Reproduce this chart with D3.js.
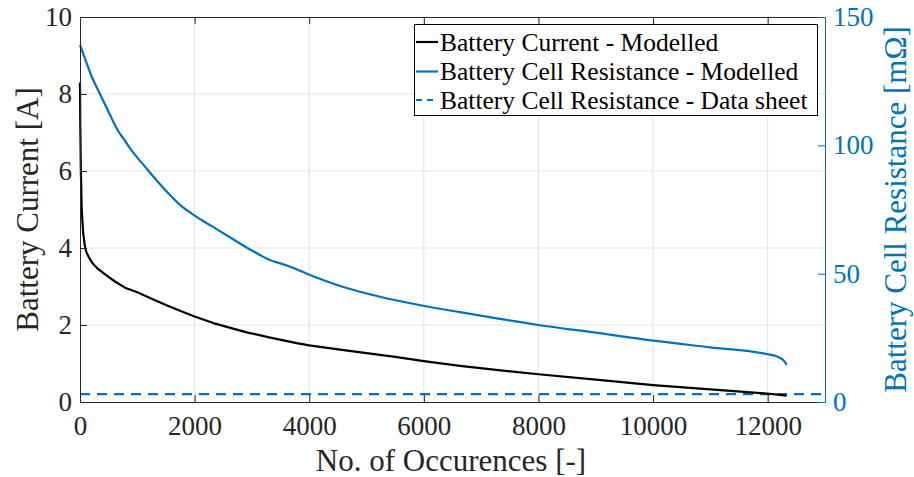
<!DOCTYPE html>
<html>
<head>
<meta charset="utf-8">
<script src="https://cdn.jsdelivr.net/npm/d3@7"></script>
<style>
  html, body { margin: 0; padding: 0; background: #fff; }
  svg { display: block; }
  text { font-family: "Liberation Serif" !important; }
</style>
</head>
<body>
<svg id="chart" width="914" height="477"></svg>
<script>
// Occurrence counts (x) and modelled battery current [A]
const currentX = [0, 5, 15, 30, 55, 85, 110, 150, 220, 320, 450, 610, 785, 1000, 1280, 1500, 1745, 2000, 2326, 2908, 3300, 3781, 4000, 4537, 5000, 5500, 6000, 6631, 7300, 8000, 9000, 10000, 11000, 11982, 12330];
const currentA = [8.3, 7.2, 6.0, 5.0, 4.4, 4.05, 3.9, 3.77, 3.6, 3.45, 3.3, 3.13, 2.97, 2.85, 2.66, 2.52, 2.37, 2.22, 2.05, 1.81, 1.68, 1.53, 1.47, 1.36, 1.27, 1.17, 1.06, 0.94, 0.83, 0.72, 0.58, 0.44, 0.33, 0.22, 0.165];

// Occurrence counts (x) and modelled cell resistance [mΩ]
const resistX = [0, 100, 200, 349, 500, 669, 756, 900, 1134, 1350, 1541, 1745, 1995, 2300, 2700, 3000, 3315, 3600, 4013, 4500, 5235, 5990, 6631, 7300, 7998, 9000, 10004, 11000, 11982, 12156, 12230, 12272, 12310, 12330];
const resistMOhm = [139, 133, 127, 120, 113, 105.5, 102.7, 98, 91.7, 86, 81.3, 76.8, 72.7, 68.5, 63, 59, 55.3, 53.3, 49.5, 45.5, 41, 37.5, 35, 32.5, 30, 27, 23.9, 21.3, 18.7, 17.8, 17.0, 16.3, 15.3, 14.4];

// Data-sheet resistance (constant) [mΩ]
const datasheetMOhm = 3.1;

// Axis ticks
const xTicks = [0, 2000, 4000, 6000, 8000, 10000, 12000];
const yLeftTicks = [0, 2, 4, 6, 8, 10];
const yRightTicks = [0, 50, 100, 150];

const legendLabels = [
  "Battery Current - Modelled",
  "Battery Cell Resistance - Modelled",
  "Battery Cell Resistance - Data sheet"
];

const BLUE = "#0072BD";
const AX = "#262626";
const SERIF = '"Liberation Serif"';

const svg = d3.select("#chart");
const m = { left: 80, right: 89, top: 17, bottom: 75 };
const W = 914, H = 477;
const pw = W - m.left - m.right, ph = H - m.top - m.bottom;

const x = d3.scaleLinear().domain([0, 13000]).range([m.left, m.left + pw]);
const yL = d3.scaleLinear().domain([0, 10]).range([m.top + ph, m.top]);
const yR = d3.scaleLinear().domain([0, 150]).range([m.top + ph, m.top]);

function serifText(sel, size) {
  return sel.attr("font-family", "Liberation Serif").attr("font-size", size)
    .style("font-family", SERIF).style("font-size", size + "px");
}

// Grid
const grid = svg.append("g").attr("stroke", "#e3e3e3").attr("stroke-width", 1);
grid.selectAll(".gx").data(xTicks.slice(1)).join("line")
  .attr("x1", d => x(d)).attr("x2", d => x(d))
  .attr("y1", m.top).attr("y2", m.top + ph);
grid.selectAll(".gy").data(yLeftTicks.slice(1, -1)).join("line")
  .attr("x1", m.left).attr("x2", m.left + pw)
  .attr("y1", d => yL(d)).attr("y2", d => yL(d));

// Data-sheet resistance (dashed)
svg.append("line")
  .attr("x1", x(0)).attr("x2", x(13000))
  .attr("y1", yR(datasheetMOhm)).attr("y2", yR(datasheetMOhm))
  .attr("stroke", BLUE).attr("stroke-width", 2.2)
  .attr("stroke-dasharray", "10,7");

// Modelled resistance
const rLine = d3.line().x((d, i) => x(resistX[i])).y(d => yR(d)).curve(d3.curveMonotoneX);
svg.append("path").attr("d", rLine(resistMOhm))
  .attr("fill", "none").attr("stroke", BLUE).attr("stroke-width", 2.2)
  .attr("stroke-linejoin", "round");

// Modelled current
const cLine = d3.line().x((d, i) => x(currentX[i])).y(d => yL(d));
svg.append("path").attr("d", cLine(currentA))
  .attr("fill", "none").attr("stroke", "#000").attr("stroke-width", 2.2)
  .attr("stroke-linejoin", "round");

function styleAxis(g, color, fontSize) {
  g.attr("font-family", "Liberation Serif").attr("font-size", fontSize);
  g.select(".domain").attr("stroke", color).attr("stroke-width", 1);
  g.selectAll(".tick line").attr("stroke", color).attr("stroke-width", 1);
  serifText(g.selectAll(".tick text").attr("fill", color), fontSize);
}

// Bottom axis
const gB = svg.append("g").attr("transform", `translate(0,${m.top + ph})`)
  .call(d3.axisBottom(x).tickValues(xTicks).tickFormat(d3.format("d")).tickSize(-7).tickSizeOuter(0).tickPadding(14));
styleAxis(gB, AX, 27);

// Top axis (box)
const gT = svg.append("g").attr("transform", `translate(0,${m.top})`)
  .call(d3.axisTop(x).tickValues(xTicks).tickFormat("").tickSize(-7).tickSizeOuter(0));
styleAxis(gT, AX, 27);

// Left axis
const gL = svg.append("g").attr("transform", `translate(${m.left},0)`)
  .call(d3.axisLeft(yL).tickValues(yLeftTicks).tickFormat(d3.format("d")).tickSize(-7).tickSizeOuter(0).tickPadding(8));
styleAxis(gL, AX, 27);

// Right axis
const gR = svg.append("g").attr("transform", `translate(${m.left + pw},0)`)
  .call(d3.axisRight(yR).tickValues(yRightTicks).tickFormat(d3.format("d")).tickSize(-7).tickSizeOuter(0).tickPadding(8));
styleAxis(gR, BLUE, 27);

// Axis titles
serifText(svg.append("text"), 31)
  .attr("x", 451).attr("y", 471)
  .attr("text-anchor", "middle").attr("fill", AX)
  .text("No. of Occurences [-]");

serifText(svg.append("text"), 31)
  .attr("transform", `translate(38,${m.top + ph / 2}) rotate(-90)`)
  .attr("text-anchor", "middle").attr("fill", AX)
  .text("Battery Current [A]");

serifText(svg.append("text"), 31)
  .attr("transform", `translate(906,${m.top + ph / 2}) rotate(-90)`)
  .attr("text-anchor", "middle").attr("fill", BLUE)
  .text("Battery Cell Resistance [mΩ]");

// Legend
const lg = svg.append("g");
lg.append("rect").attr("x", 414.5).attr("y", 24.5).attr("width", 403).attr("height", 91)
  .attr("fill", "#fff").attr("stroke", "#000").attr("stroke-width", 1);
const legendStyles = [
  { color: "#000", dash: null },
  { color: BLUE, dash: null },
  { color: BLUE, dash: "6,5" }
];
const rowY = [42, 71.5, 100];
legendLabels.forEach((lab, i) => {
  lg.append("line").attr("x1", 416).attr("x2", 438)
    .attr("y1", rowY[i]).attr("y2", rowY[i])
    .attr("stroke", legendStyles[i].color).attr("stroke-width", 2.2)
    .attr("stroke-dasharray", legendStyles[i].dash);
  serifText(lg.append("text"), 25.5).attr("x", 440).attr("y", rowY[i] + 8.5)
    .attr("fill", "#000").text(lab);
});
</script>
</body>
</html>
